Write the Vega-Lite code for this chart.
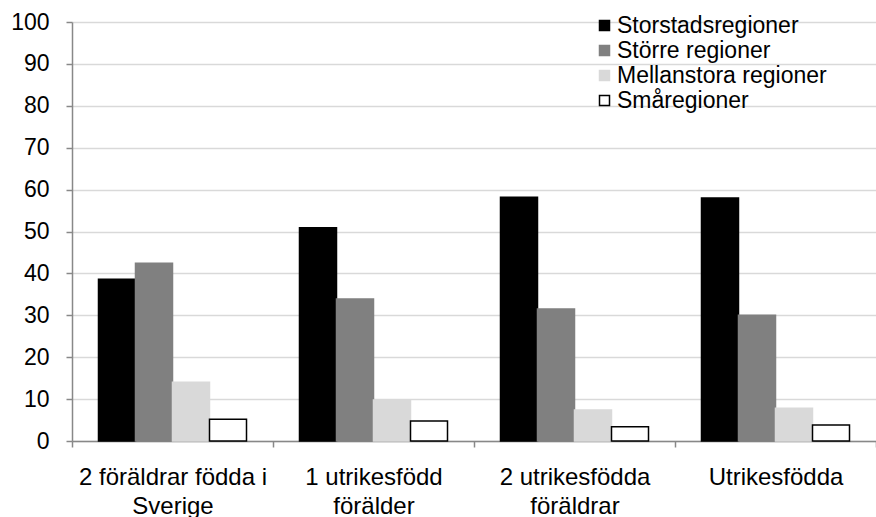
{
  "$schema": "https://vega.github.io/schema/vega-lite/v6.json",
  "width": 804,
  "height": 419,
  "autosize": {"type": "none"},
  "padding": {"left": 72, "top": 22, "right": 0, "bottom": 76},
  "background": "white",
  "config": {
    "view": {"stroke": null},
    "font": "Liberation Sans"
  },
  "data": {
    "values": [
      {"grupp": "2 föräldrar födda i Sverige", "region": "Storstadsregioner", "andel": 38.6},
      {"grupp": "2 föräldrar födda i Sverige", "region": "Större regioner", "andel": 42.4},
      {"grupp": "2 föräldrar födda i Sverige", "region": "Mellanstora regioner", "andel": 14.0},
      {"grupp": "2 föräldrar födda i Sverige", "region": "Småregioner", "andel": 5.2},
      {"grupp": "1 utrikesfödd förälder", "region": "Storstadsregioner", "andel": 50.9},
      {"grupp": "1 utrikesfödd förälder", "region": "Större regioner", "andel": 33.9},
      {"grupp": "1 utrikesfödd förälder", "region": "Mellanstora regioner", "andel": 9.8},
      {"grupp": "1 utrikesfödd förälder", "region": "Småregioner", "andel": 4.8},
      {"grupp": "2 utrikesfödda föräldrar", "region": "Storstadsregioner", "andel": 58.2},
      {"grupp": "2 utrikesfödda föräldrar", "region": "Större regioner", "andel": 31.5},
      {"grupp": "2 utrikesfödda föräldrar", "region": "Mellanstora regioner", "andel": 7.4},
      {"grupp": "2 utrikesfödda föräldrar", "region": "Småregioner", "andel": 3.4},
      {"grupp": "Utrikesfödda", "region": "Storstadsregioner", "andel": 58.0},
      {"grupp": "Utrikesfödda", "region": "Större regioner", "andel": 30.0},
      {"grupp": "Utrikesfödda", "region": "Mellanstora regioner", "andel": 7.8},
      {"grupp": "Utrikesfödda", "region": "Småregioner", "andel": 3.8}
    ]
  },
  "mark": {"type": "bar", "strokeWidth": 1.5},
  "encoding": {
    "x": {
      "field": "grupp",
      "type": "nominal",
      "sort": null,
      "scale": {"paddingInner": 0, "paddingOuter": 0},
      "axis": {
        "title": null,
        "labelAngle": 0,
        "labelFontSize": 24,
        "labelColor": "#000000",
        "labelPadding": 18,
        "labelLineHeight": 29,
        "labelLimit": 0,
        "tickBand": "extent",
        "tickSize": 6,
        "tickColor": "#888888",
        "tickWidth": 1.5,
        "domainColor": "#888888",
        "domainWidth": 1.5,
        "grid": false,
        "labelExpr": "datum.value == '2 föräldrar födda i Sverige' ? ['2 föräldrar födda i', 'Sverige'] : datum.value == '1 utrikesfödd förälder' ? ['1 utrikesfödd', 'förälder'] : datum.value == '2 utrikesfödda föräldrar' ? ['2 utrikesfödda', 'föräldrar'] : datum.value"
      }
    },
    "xOffset": {
      "field": "region",
      "type": "nominal",
      "sort": ["Storstadsregioner", "Större regioner", "Mellanstora regioner", "Småregioner"],
      "scale": {"paddingInner": 0, "paddingOuter": 0.716}
    },
    "y": {
      "field": "andel",
      "type": "quantitative",
      "scale": {"domain": [0, 100], "nice": false},
      "axis": {
        "title": null,
        "values": [0, 10, 20, 30, 40, 50, 60, 70, 80, 90, 100],
        "labelFontSize": 23,
        "labelColor": "#000000",
        "labelPadding": 17,
        "tickSize": 6,
        "tickColor": "#888888",
        "tickWidth": 1.5,
        "domainColor": "#888888",
        "domainWidth": 1.5,
        "gridColor": "#d9d9d9",
        "gridWidth": 1.5
      }
    },
    "color": {
      "field": "region",
      "type": "nominal",
      "sort": ["Storstadsregioner", "Större regioner", "Mellanstora regioner", "Småregioner"],
      "scale": {
        "domain": ["Storstadsregioner", "Större regioner", "Mellanstora regioner", "Småregioner"],
        "range": ["#000000", "#808080", "#d9d9d9", "#ffffff"]
      },
      "legend": {
        "title": null,
        "orient": "none",
        "legendX": 521,
        "legendY": -8,
        "padding": 0,
        "rowPadding": 1,
        "symbolType": "square",
        "symbolSize": 100,
        "symbolStrokeWidth": 1.5,
        "labelFontSize": 23,
        "labelColor": "#000000",
        "labelOffset": 1,
        "labelLimit": 0
      }
    },
    "stroke": {
      "field": "region",
      "type": "nominal",
      "sort": ["Storstadsregioner", "Större regioner", "Mellanstora regioner", "Småregioner"],
      "scale": {
        "domain": ["Storstadsregioner", "Större regioner", "Mellanstora regioner", "Småregioner"],
        "range": ["#000000", "#808080", "#d9d9d9", "#000000"]
      },
      "legend": {
        "title": null,
        "orient": "none",
        "legendX": 521,
        "legendY": -8,
        "padding": 0,
        "rowPadding": 1,
        "symbolType": "square",
        "symbolSize": 100,
        "symbolStrokeWidth": 1.5,
        "labelFontSize": 23,
        "labelColor": "#000000",
        "labelOffset": 1,
        "labelLimit": 0
      }
    }
  }
}
